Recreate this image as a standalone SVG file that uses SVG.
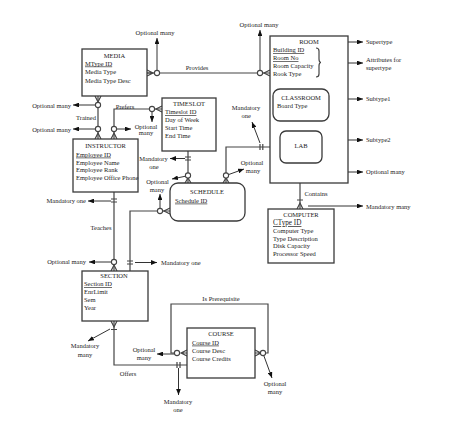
<svg xmlns="http://www.w3.org/2000/svg" width="454" height="434" viewBox="0 0 454 434">
<style>
text{font-family:"Liberation Serif","Times New Roman",serif;font-size:6.5px;fill:#222}
.t{text-anchor:middle}
.u{text-decoration:underline}
.box{fill:#fff;stroke:#3a3a3a;stroke-width:1.3}
.ln{fill:none;stroke:#444;stroke-width:1.2}
.ar{fill:none;stroke:#333;stroke-width:1;marker-end:url(#ah)}
.c{fill:#fff;stroke:#444;stroke-width:1.1}
</style>
<defs>
<marker id="ah" viewBox="0 0 10 8" refX="10" refY="4" markerWidth="6" markerHeight="4.8" orient="auto" markerUnits="userSpaceOnUse"><path d="M0,0 L10,4 L0,8 z" fill="#111"/></marker>
</defs>
<rect width="454" height="434" fill="#fff"/>

<g id="connectors">
<!-- Provides -->
<path class="ln" d="M147,73 H270"/>
<path class="ln" d="M147,70 L153,73 L147,76 M147,73 H153"/>
<path class="ln" d="M270,70 L264,73 L270,76"/>
<path class="ar" d="M157,70.4 V38"/>
<path class="ar" d="M260,70.4 V30"/>
<!-- Trained -->
<path class="ln" d="M98,96 V139"/>
<path class="ln" d="M95,96 L98,102 L101,96 M95,139 L98,133 L101,139"/>
<path class="ar" d="M95.4,105 H73"/>
<path class="ar" d="M95.4,129 H73"/>
<!-- Prefers -->
<path class="ln" d="M114,139 V109 H162"/>
<path class="ln" d="M111,139 L114,133 L117,139 M162,106 L156,109 L162,112"/>
<path class="ar" d="M116.6,129 H131"/>
<path class="ar" d="M152,111.6 V122"/>
<!-- Timeslot-Schedule -->
<path class="ln" d="M188,151 V183"/>
<path class="ln" d="M185,157 H191 M185,160 H191 M185,183 L188,178 L191,183"/>
<path class="ar" d="M185,158.5 H170"/>
<path class="ar" d="M185.6,176.2 L172,179"/>
<!-- Schedule-Room -->
<path class="ln" d="M226,183 V147 H270"/>
<path class="ln" d="M223,183 L226,178 L229,183 M260,144 V150 M262.8,144 V150"/>
<path class="ar" d="M260,143 L252,122"/>
<path class="ar" d="M228.5,174.6 L244,169"/>
<!-- Schedule-Section -->
<path class="ln" d="M170,211 H130 V271"/>
<path class="ln" d="M170,208 L164,211 L170,214 M127,261 H133 M127,264 H133"/>
<path class="ar" d="M160,208.4 V194"/>
<path class="ar" d="M135,262.5 H157"/>
<!-- Teaches -->
<path class="ln" d="M114,192 V271"/>
<path class="ln" d="M111,199 H117 M111,202 H117 M111,271 L114,265 L117,271"/>
<path class="ar" d="M111,201 H88"/>
<path class="ar" d="M111.4,262 H89"/>
<!-- Offers -->
<path class="ln" d="M114,321 V365 H187"/>
<path class="ln" d="M111,321 L114,327 L117,321 M111,329.5 H117 M177,362 V368 M180,362 V368"/>
<path class="ar" d="M110,329 L88,341"/>
<path class="ar" d="M178.5,368 V395"/>
<!-- Is Prerequisite -->
<path class="ln" d="M174.4,353 H171 V304 H268 V353 H265.6"/>
<path class="ln" d="M187,350 L181,353 L187,356 M187,353 H181 M255,350 L261,353 L255,356 M255,353 H261"/>
<path class="ar" d="M174.4,354 H157"/>
<path class="ar" d="M263.8,355.6 L272,378"/>
<!-- Contains -->
<path class="ln" d="M300,163 V209"/>
<path class="ln" d="M297,163 L300,168.5 L303,163 M297,200 H303 M297,209 L300,203 L303,209"/>
<path class="ar" d="M302.6,172 H363"/>
<path class="ar" d="M308,206 H363"/>
<!-- annotation arrows -->
<path class="ar" d="M329,42 H363"/>
<path class="ar" d="M329,63 H363"/>
<path class="ar" d="M329,99 H363"/>
<path class="ar" d="M323,140 H363"/>
<!-- circles -->
<circle class="c" cx="157" cy="73" r="2.6"/>
<circle class="c" cx="260" cy="73" r="2.6"/>
<circle class="c" cx="98" cy="105" r="2.6"/>
<circle class="c" cx="98" cy="129" r="2.6"/>
<circle class="c" cx="114" cy="129" r="2.6"/>
<circle class="c" cx="152" cy="109" r="2.6"/>
<circle class="c" cx="188" cy="175.5" r="2.6"/>
<circle class="c" cx="226" cy="175.5" r="2.6"/>
<circle class="c" cx="160" cy="211" r="2.6"/>
<circle class="c" cx="114" cy="262" r="2.6"/>
<circle class="c" cx="177" cy="353" r="2.6"/>
<circle class="c" cx="263" cy="353" r="2.6"/>
<circle class="c" cx="300" cy="172" r="2.6"/>
<!-- relationship labels -->
<text class="t" x="197" y="70">Provides</text>
<text class="t" x="86" y="120">Trained</text>
<text class="t" x="125" y="108.5">Prefers</text>
<text class="t" x="101" y="230">Teaches</text>
<text class="t" x="316" y="195.6">Contains</text>
<text class="t" x="128" y="376">Offers</text>
<text class="t" x="221" y="301">Is Prerequisite</text>
<!-- cardinality labels -->
<text class="t" x="155" y="35">Optional many</text>
<text class="t" x="259" y="27">Optional many</text>
<text x="71" y="107.5" text-anchor="end">Optional many</text>
<text x="71" y="131.5" text-anchor="end">Optional many</text>
<text class="t" x="146" y="128.5">Optional</text>
<text class="t" x="146" y="135">many</text>
<text class="t" x="153.5" y="160.6">Mandatory</text>
<text class="t" x="154" y="169">one</text>
<text class="t" x="157.5" y="184">Optional</text>
<text class="t" x="157" y="192.3">many</text>
<text class="t" x="246" y="110">Mandatory</text>
<text class="t" x="246.3" y="118.3">one</text>
<text class="t" x="252" y="164.6">Optional</text>
<text class="t" x="253" y="173">many</text>
<text x="86" y="203" text-anchor="end">Mandatory one</text>
<text x="86" y="264" text-anchor="end">Optional many</text>
<text x="161" y="265">Mandatory one</text>
<text class="t" x="85" y="348.3">Mandatory</text>
<text class="t" x="85" y="356.6">many</text>
<text class="t" x="144" y="352.3">Optional</text>
<text class="t" x="144" y="360">many</text>
<text class="t" x="178" y="404">Mandatory</text>
<text class="t" x="178" y="411.6">one</text>
<text class="t" x="275" y="386.3">Optional</text>
<text class="t" x="275" y="394">many</text>
<text x="366" y="44">Supertype</text>
<text x="366" y="61.6">Attributes for</text>
<text x="366" y="70">supertype</text>
<text x="366" y="101">Subtype1</text>
<text x="366" y="142.3">Subtype2</text>
<text x="366" y="174">Optional many</text>
<text x="366" y="209">Mandatory many</text>
</g>

<g id="media">
<rect class="box" x="82" y="49" width="65" height="47"/>
<text class="t" x="114.5" y="57.5">MEDIA</text>
<text class="u" x="85" y="65.5">MType ID</text>
<text x="85" y="74">Media Type</text>
<text x="85" y="82.5">Media Type Desc</text>
</g>

<g id="room">
<rect class="box" x="270" y="36" width="78" height="147"/>
<text class="t" x="309" y="44">ROOM</text>
<text class="u" x="273" y="52.3">Building ID</text>
<text class="u" x="273" y="60.3">Room No</text>
<text x="273" y="68">Room Capacity</text>
<text x="273" y="75.6">Rook Type</text>
<path class="ln" d="M316,48 Q319,48 319,51 V59 Q319,62.5 321,62.5 Q319,62.5 319,66 V74 Q319,77 316,77" stroke-width="0.9"/>
</g>

<g id="classroom">
<rect class="box" x="273" y="89" width="56" height="32" rx="7"/>
<text class="t" x="301" y="99.6">CLASSROOM</text>
<text x="277" y="107.6">Board Type</text>
</g>

<g id="lab">
<rect class="box" x="280" y="131" width="42" height="32" rx="6"/>
<text class="t" x="301" y="148.3">LAB</text>
</g>

<g id="computer">
<rect class="box" x="268" y="209" width="66" height="54"/>
<text class="t" x="301" y="216.6">COMPUTER</text>
<text class="u" x="273" y="225" style="font-size:7.2px">CType ID</text>
<text x="273" y="232.6">Computer Type</text>
<text x="273" y="240.6">Type Description</text>
<text x="273" y="248.3">Disk Capacity</text>
<text x="273" y="256.3">Processor Speed</text>
</g>

<g id="timeslot">
<rect class="box" x="162" y="98" width="54" height="53"/>
<text class="t" x="189" y="105.6">TIMESLOT</text>
<text class="u" x="165" y="114">Timeslot ID</text>
<text x="165" y="121.6">Day of Week</text>
<text x="165" y="130">Start Time</text>
<text x="165" y="137.6">End Time</text>
</g>

<g id="instructor">
<rect class="box" x="73" y="139" width="65" height="53"/>
<text class="t" x="105.5" y="148">INSTRUCTOR</text>
<text class="u" x="76" y="156.6">Employee ID</text>
<text x="76" y="164.6">Employee Name</text>
<text x="76" y="172.3">Employee Rank</text>
<text x="76" y="180.3">Employee Office Phone</text>
</g>

<g id="schedule">
<rect class="box" x="170" y="183" width="75" height="38" rx="8"/>
<text class="t" x="207" y="194">SCHEDULE</text>
<text class="u" x="175" y="202.6">Schedule ID</text>
</g>

<g id="section">
<rect class="box" x="82" y="271" width="66" height="50"/>
<text class="t" x="114" y="278.3">SECTION</text>
<text class="u" x="84" y="286.3">Section ID</text>
<text x="84" y="294">EnrLimit</text>
<text x="84" y="301.6">Sem</text>
<text x="84" y="309.6">Year</text>
</g>

<g id="course">
<rect class="box" x="187" y="328" width="68" height="50"/>
<text class="t" x="221" y="335.6">COURSE</text>
<text class="u" x="192" y="344.6">Course ID</text>
<text x="192" y="353">Course Desc</text>
<text x="192" y="361">Course Credits</text>
</g>
</svg>
